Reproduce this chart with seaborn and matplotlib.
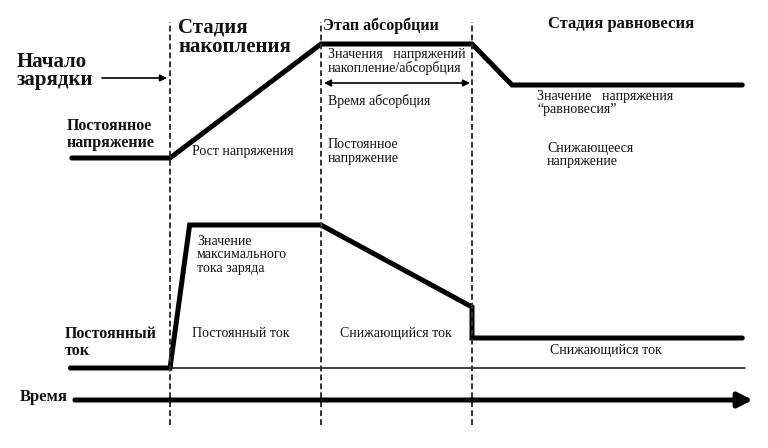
import matplotlib
matplotlib.use("Agg")
import matplotlib.pyplot as plt
from matplotlib.transforms import Affine2D
import seaborn as sns
import pandas as pd

# ---- data (time in stage units, level in arbitrary units) ----
stage_bounds = [0.0, 1.0, 2.0]
voltage_t = [-0.65, 0.0, 1.0, 2.0, 2.265, 3.79]
voltage_level = [290, 290, 404, 404, 363, 363]
current_t = [-0.66, 0.0, 0.13, 1.0, 2.0, 2.0, 3.79]
current_level = [80, 80, 223, 223, 141, 110, 110]
baseline_t = [-0.66, 3.81]
baseline_level = [80, 80]
time_axis_t = [-0.63, 3.86]
time_axis_level = [48, 48]

sns.set_theme(style="white")
plt.rcParams['font.family'] = ['Liberation Serif', 'DejaVu Serif']

W, H = 768, 448
fig = plt.figure(figsize=(W / 100, H / 100), dpi=100)
ax = fig.add_axes([0, 0, 1, 1])
ax.set_xlim(-170 / 151, 598 / 151)
ax.set_ylim(0, 448)
ax.axis('off')

df_v = pd.DataFrame({'t': voltage_t, 'v': voltage_level})
df_c = pd.DataFrame({'t': current_t, 'v': current_level})
sns.lineplot(data=df_v, x='t', y='v', ax=ax, color='black', lw=3.6,
             estimator=None, sort=False, solid_joinstyle='miter')
sns.lineplot(data=df_c, x='t', y='v', ax=ax, color='black', lw=3.6,
             estimator=None, sort=False, solid_joinstyle='miter')
ax.plot(baseline_t, baseline_level, color='#222222', lw=1.2, zorder=1)

# stage boundaries
ax.vlines(stage_bounds, 23, 426, colors='#333333', lw=1.4,
          linestyles=(0, (3.0, 1.6)))

# time arrow
ax.annotate('', xy=(time_axis_t[1], time_axis_level[1]),
            xytext=(time_axis_t[0], time_axis_level[0]),
            arrowprops=dict(arrowstyle='-|>', lw=3.6, color='black',
                            mutation_scale=22, shrinkA=0, shrinkB=0))

# pixel transform for text
pt = Affine2D().scale(1 / W, -1 / H).translate(0, 1) + fig.transFigure


def txt(x, y, s, size=10, bold=False):
    fig.text(x, y, s, transform=pt, fontsize=size,
             fontweight='bold' if bold else 'normal', va='baseline',
             ha='left', color='#111111')


txt(178, 32, 'Стадия', 15, True)
txt(178, 52, 'накопления', 15, True)
txt(17, 67, 'Начало', 15, True)
txt(17, 85, 'зарядки', 15, True)
txt(67, 130, 'Постоянное', 11.5, True)
txt(67, 147, 'напряжение', 11.5, True)
txt(192, 155, 'Рост напряжения')

txt(323, 30, 'Этап абсорбции', 11.5, True)
txt(548, 28, 'Стадия равновесия', 12, True)
txt(328, 58, 'Значения   напряжений')
txt(328, 72, 'накопление/абсорбция')
txt(328, 105, 'Время абсорбция')
txt(328, 148, 'Постоянное')
txt(328, 162, 'напряжение')

txt(537, 100, 'Значение   напряжения')
txt(537, 113, '\u201cравновесия\u201d')
txt(547, 152, 'Снижающееся')
txt(547, 165, 'напряжение')

txt(197, 245, 'Значение')
txt(197, 258, 'максимального')
txt(197, 272, 'тока заряда')

txt(65, 338, 'Постоянный', 11.5, True)
txt(65, 355, 'ток', 11.5, True)
txt(192, 337, 'Постоянный ток')
txt(340, 337, 'Снижающийся ток')
txt(550, 354, 'Снижающийся ток')
txt(20, 401, 'Время', 12, True)

# small arrows
ax.annotate('', xy=(167, 78), xytext=(102, 78), xycoords=pt, textcoords=pt,
            arrowprops=dict(arrowstyle='-|>', lw=1.2, color='black',
                            mutation_scale=10, shrinkA=0, shrinkB=0))
ax.annotate('', xy=(470, 83), xytext=(324, 83), xycoords=pt, textcoords=pt,
            arrowprops=dict(arrowstyle='<|-|>', lw=1.2, color='black',
                            mutation_scale=10, shrinkA=0, shrinkB=0))

fig.savefig('out.png', dpi=100)
